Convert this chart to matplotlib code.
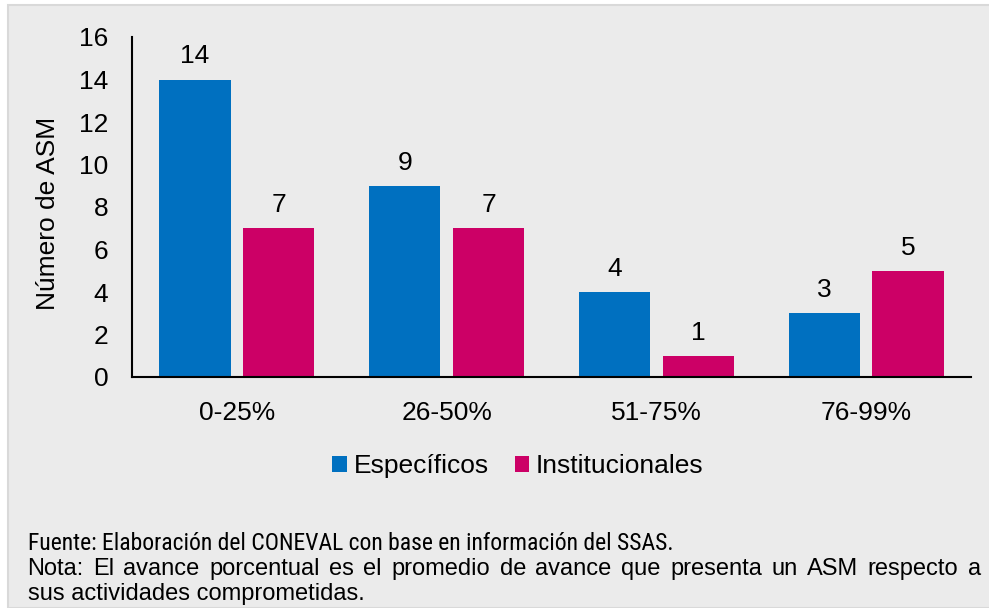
import matplotlib.pyplot as plt
import matplotlib.patches as mpatches
from matplotlib import font_manager
import numpy as np

plt.rcParams['font.family'] = ['Liberation Sans', 'DejaVu Sans']

categorias = ['0-25%', '26-50%', '51-75%', '76-99%']
especificos = [14, 9, 4, 3]
institucionales = [7, 7, 1, 5]
series = ['Específicos', 'Institucionales']
colores = ['#0070C0', '#CC0066']
yticks = [0, 2, 4, 6, 8, 10, 12, 14, 16]

fuente = 'Fuente: Elaboración del CONEVAL con base en información del SSAS.'
nota1 = 'Nota: El avance porcentual es el promedio de avance que presenta un ASM respecto a'
nota2 = 'sus actividades comprometidas.'

FS = 19
FS_NOTA = 17

# en el original la linea de fuente sale mas angosta; se busca una letra condensada
fam_fuente, fs_fuente = 'Liberation Sans', 15
for fam in ['Liberation Sans Narrow', 'Roboto Condensed', 'Arial Narrow']:
    try:
        font_manager.findfont(font_manager.FontProperties(family=fam), fallback_to_default=False)
        fam_fuente, fs_fuente = fam, FS_NOTA
        break
    except ValueError:
        pass

fig = plt.figure(figsize=(9.89, 6.08), dpi=100)
fig.patch.set_facecolor('white')
# fondo gris con borde
fig.patches.append(mpatches.Rectangle((8 / 989, 0), 1.0, 1 - 5 / 608, transform=fig.transFigure,
                                      facecolor='#EBEBEB', edgecolor='#D9D9D9', linewidth=1.5, zorder=-5))

ax = fig.add_axes([132 / 989, 1 - 377 / 608, 839 / 989, 340 / 608])
ax.set_facecolor('none')

x = np.arange(len(categorias))
w = 0.34
b1 = ax.bar(x - 0.2, especificos, w, color=colores[0], label=series[0])
b2 = ax.bar(x + 0.2, institucionales, w, color=colores[1], label=series[1])

for bars in (b1, b2):
    for rect in bars:
        ax.annotate(str(int(rect.get_height())),
                    (rect.get_x() + rect.get_width() / 2, rect.get_height()),
                    xytext=(0, 8), textcoords='offset points',
                    ha='center', va='bottom', fontsize=FS)

ax.set_xlim(-0.5, 3.5)
ax.set_ylim(0, 16)
ax.set_yticks(yticks)
ax.set_xticks(x)
ax.set_xticklabels(categorias)
ax.tick_params(axis='both', length=0, labelsize=FS)
ax.tick_params(axis='y', pad=17)
ax.tick_params(axis='x', pad=17)
for s in ('top', 'right'):
    ax.spines[s].set_visible(False)
for s in ('left', 'bottom'):
    ax.spines[s].set_linewidth(1.5)
    ax.spines[s].set_color('black')

ax.set_ylabel('Número de ASM', fontsize=FS)
ax.yaxis.set_label_coords(-0.086, 0.48)

fig.legend(handles=[b1, b2], labels=series, loc='center',
           bbox_to_anchor=(518 / 989, 1 - 466 / 608), ncol=2, frameon=False,
           fontsize=FS, handlelength=0.55, handleheight=0.55,
           handletextpad=0.25, columnspacing=1.0)

fig.text(28 / 989, 1 - 543 / 608, fuente, fontsize=fs_fuente, va='center', ha='left',
         family=[fam_fuente, 'Liberation Sans'])
fig.text(28 / 989, 1 - 594 / 608, nota2, fontsize=FS_NOTA, va='center', ha='left')

# linea justificada de la nota
renderer = fig.canvas.get_renderer()
palabras = nota1.split(' ')
x0, x1 = 27, 981
y_nota = 1 - 569 / 608
anchos = []
for p in palabras:
    t = fig.text(0, 0, p, fontsize=FS_NOTA)
    anchos.append(t.get_window_extent(renderer).width)
    t.remove()
hueco = (x1 - x0 - sum(anchos)) / (len(palabras) - 1)
xp = x0
for p, a in zip(palabras, anchos):
    fig.text(xp / 989, y_nota, p, fontsize=FS_NOTA, va='center', ha='left')
    xp += a + hueco

plt.savefig('out.png', dpi=100)
